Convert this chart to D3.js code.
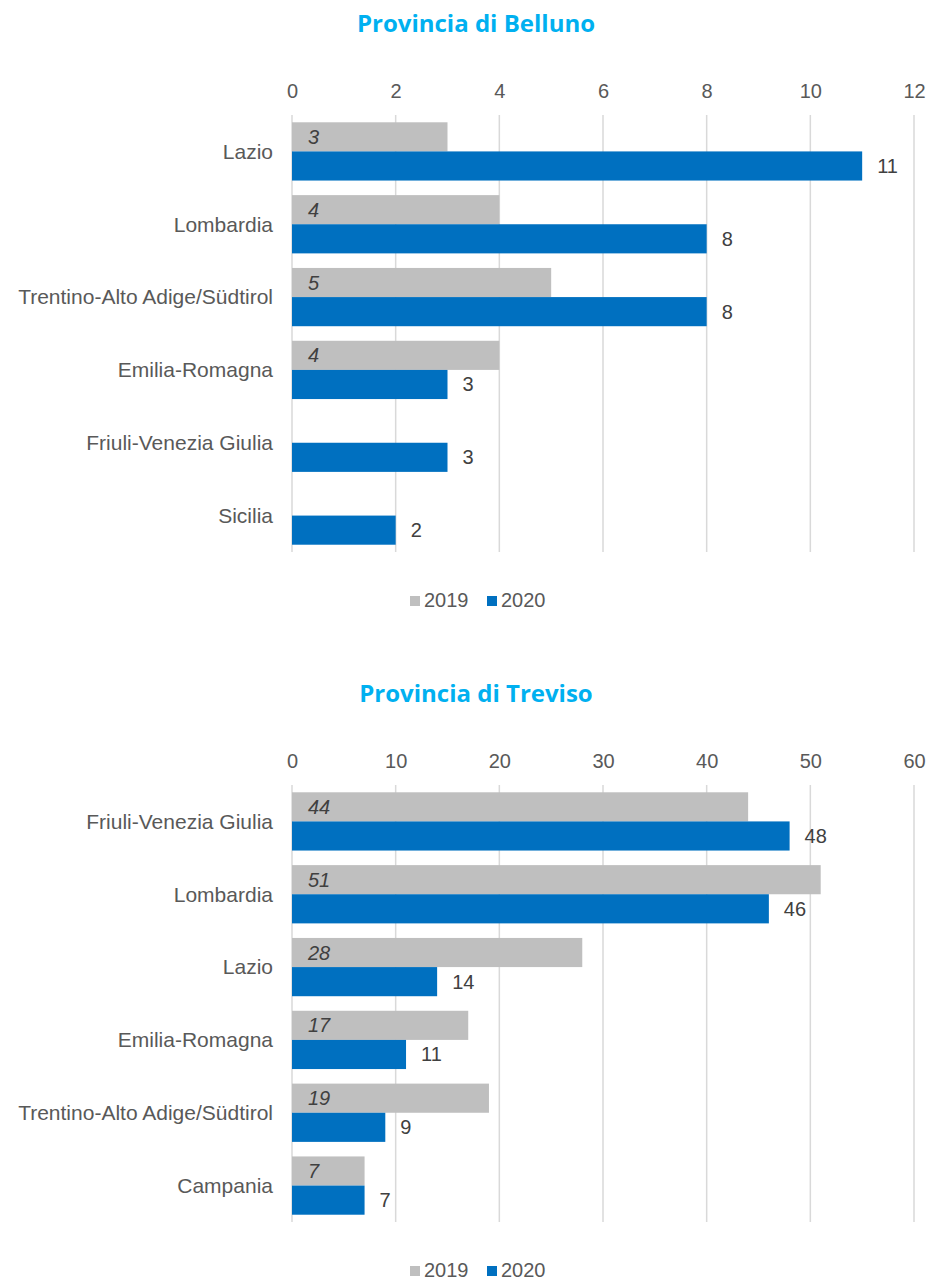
<!DOCTYPE html>
<html>
<head>
<meta charset="utf-8">
<script src="https://cdn.jsdelivr.net/npm/d3@7"></script>
<style>
  body { margin: 0; background: #fff; }
  text { font-family: "Liberation Sans", Arial, sans-serif; }
</style>
</head>
<body>
<div id="chart"></div>
<script>
// Belluno
var bellunoCats = ['Lazio', 'Lombardia', 'Trentino-Alto Adige/Südtirol', 'Emilia-Romagna', 'Friuli-Venezia Giulia', 'Sicilia']
var belluno2019 = [3, 4, 5, 4, null, null]
var belluno2020 = [11, 8, 8, 3, 3, 2]
var bellunoTicks = [0, 2, 4, 6, 8, 10, 12]

// Treviso
var trevisoCats = ['Friuli-Venezia Giulia', 'Lombardia', 'Lazio', 'Emilia-Romagna', 'Trentino-Alto Adige/Südtirol', 'Campania']
var treviso2019 = [44, 51, 28, 17, 19, 7]
var treviso2020 = [48, 46, 14, 11, 9, 7]
var trevisoTicks = [0, 10, 20, 30, 40, 50, 60]

var seriesNames = ['2019', '2020']

var W = 930, H = 1281
  , grey = '#BFBFBF'
  , blue = '#0070C0'
  , fs = '20px'
  , svg = d3.select('#chart').append('svg').attr('width', W).attr('height', H)

function drawChart(top, title, cats, s19, s20, ticks){
  var g = svg.append('g').attr('transform', 'translate(0,' + top + ')')
    , plotTop = 115
    , plotBottom = 552
    , x = d3.scaleLinear().domain([0, ticks[ticks.length - 1]]).range([292, 914])
    , y = d3.scaleBand().domain(cats).range([plotTop, plotBottom]).paddingInner(0.2).paddingOuter(0.1)
    , ys = d3.scaleBand().domain(seriesNames).range([0, y.bandwidth()])

  g.append('text').text(title)
    .attr('x', 476).attr('y', 32)
    .attr('text-anchor', 'middle')
    .style('font-family', '"Open Sans", sans-serif')
    .style('font-weight', 'bold')
    .style('font-size', '24px')
    .style('fill', '#00B0F0')

  // gridlines
  g.selectAll('line.grid').data(ticks)
    .enter().append('line').attr('class', 'grid')
      .attr('x1', function(d){ return x(d) }).attr('x2', function(d){ return x(d) })
      .attr('y1', plotTop).attr('y2', plotBottom)
      .style('stroke', '#D9D9D9').style('stroke-width', 1.5)

  var axis = g.append('g').attr('transform', 'translate(0,98)')
    .call(d3.axisTop(x).tickValues(ticks).tickSize(0).tickPadding(0))
  axis.select('.domain').remove()
  axis.selectAll('text')
    .style('font-family', '"Liberation Sans", Arial, sans-serif')
    .style('font-size', fs).style('fill', '#595959')

  // category labels
  g.selectAll('text.cat').data(cats)
    .enter().append('text').attr('class', 'cat')
      .text(function(d){ return d })
      .attr('x', 273).attr('y', function(d){ return y(d) + y.bandwidth() / 2 })
      .attr('dy', '0.35em').attr('text-anchor', 'end')
      .style('font-size', '21px').style('fill', '#595959')

  var rows = cats.map(function(c, i){ return { cat: c, v19: s19[i], v20: s20[i] } })

  // 2019 bars + italic labels at base
  var r19 = rows.filter(function(d){ return d.v19 != null })
  g.selectAll('rect.s19').data(r19)
    .enter().append('rect').attr('class', 's19')
      .attr('x', x(0)).attr('y', function(d){ return y(d.cat) + ys('2019') })
      .attr('width', function(d){ return x(d.v19) - x(0) }).attr('height', ys.bandwidth())
      .style('fill', grey)
  g.selectAll('text.l19').data(r19)
    .enter().append('text').attr('class', 'l19')
      .text(function(d){ return d.v19 })
      .attr('x', x(0) + 16).attr('y', function(d){ return y(d.cat) + ys('2019') + ys.bandwidth() / 2 })
      .attr('dy', '0.35em')
      .style('font-size', fs).style('font-style', 'italic').style('fill', '#404040')

  // 2020 bars + labels outside end
  g.selectAll('rect.s20').data(rows)
    .enter().append('rect').attr('class', 's20')
      .attr('x', x(0)).attr('y', function(d){ return y(d.cat) + ys('2020') })
      .attr('width', function(d){ return x(d.v20) - x(0) }).attr('height', ys.bandwidth())
      .style('fill', blue)
  g.selectAll('text.l20').data(rows)
    .enter().append('text').attr('class', 'l20')
      .text(function(d){ return d.v20 })
      .attr('x', function(d){ return x(d.v20) + 15 })
      .attr('y', function(d){ return y(d.cat) + ys('2020') + ys.bandwidth() / 2 })
      .attr('dy', '0.35em')
      .style('font-size', fs).style('fill', '#404040')

  // legend
  var lg = g.append('g').attr('transform', 'translate(410,596)')
  var items = lg.selectAll('g').data(seriesNames)
    .enter().append('g')
      .attr('transform', function(d, i){ return 'translate(' + (i * 77) + ',0)' })
  items.append('rect').attr('width', 10).attr('height', 10)
    .style('fill', function(d){ return d == '2019' ? grey : blue })
  items.append('text').text(function(d){ return d })
    .attr('x', 14).attr('y', 4).attr('dy', '0.35em')
    .style('font-size', fs).style('fill', '#595959')
}

drawChart(0, 'Provincia di Belluno', bellunoCats, belluno2019, belluno2020, bellunoTicks)
drawChart(670, 'Provincia di Treviso', trevisoCats, treviso2019, treviso2020, trevisoTicks)
</script>
</body>
</html>
